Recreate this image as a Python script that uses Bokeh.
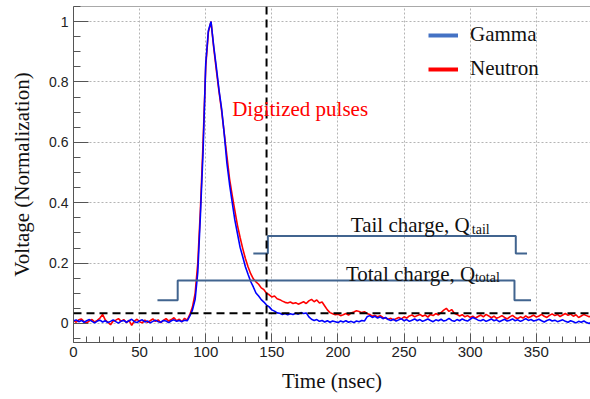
from bokeh.plotting import figure
from bokeh.models import (Range1d, SingleIntervalTicker, NumeralTickFormatter, Span,
                          Label, Legend, LegendItem)
from bokeh.embed import file_html
from bokeh.resources import INLINE

# ---------------- data ----------------
time_ns = list(range(0, 394, 2))   # sampling grid, 2 ns

gamma = [
    0.008, 0.012, 0.006, 0.010, 0.004, 0.009, 0.013, 0.007, 0.002, 0.008,   # 0-18
    0.011, 0.005, 0.009, 0.003, 0.007, 0.012, 0.006, 0.001, 0.008, 0.010,   # 20-38
    0.004, 0.009, 0.014, 0.006, 0.003, 0.009, 0.012, 0.005, 0.008, 0.002,   # 40-58
    0.007, 0.011, 0.006, 0.004, 0.010, 0.008, 0.003, 0.009, 0.012, 0.007,   # 60-78
    0.010, 0.006, 0.011, 0.009, 0.025, 0.045, 0.080, 0.170, 0.360, 0.570,   # 80-98
    0.860, 0.970, 1.000, 0.920, 0.850, 0.775, 0.712, 0.628, 0.532, 0.462,   # 100-118
    0.402, 0.343, 0.298, 0.252, 0.221, 0.188, 0.163, 0.139, 0.121, 0.101,   # 120-138
    0.091, 0.079, 0.071, 0.061, 0.055, 0.045, 0.041, 0.035, 0.034, 0.030,   # 140-158
    0.033, 0.029, 0.032, 0.030, 0.034, 0.031, 0.036, 0.033, 0.035, 0.022,   # 160-178
    0.014, 0.010, 0.013, 0.007, 0.010, 0.005, 0.009, 0.004, 0.008, 0.006,   # 180-198
    0.003, 0.008, 0.005, 0.009, 0.004, 0.007, 0.003, 0.008, 0.006, 0.010,   # 200-218
    0.008, 0.022, 0.026, 0.020, 0.024, 0.018, 0.022, 0.016, 0.020, 0.013,   # 220-238
    0.010, 0.014, 0.008, 0.012, 0.016, 0.009, 0.013, 0.007, 0.011, 0.015,   # 240-258
    0.009, 0.013, 0.007, 0.011, 0.015, 0.010, 0.006, 0.012, 0.009, 0.014,   # 260-278
    0.008, 0.011, 0.017, 0.010, 0.007, 0.013, 0.009, 0.015, 0.011, 0.008,   # 280-298
    0.014, 0.020, 0.016, 0.011, 0.009, 0.013, 0.007, 0.011, 0.015, 0.009,   # 300-318
    0.012, 0.006, 0.010, 0.014, 0.008, 0.011, 0.015, 0.009, 0.012, 0.007,   # 320-338
    0.011, 0.016, 0.010, 0.013, 0.008, 0.011, 0.014, 0.009, 0.005, 0.010,   # 340-358
    0.013, 0.008, 0.011, 0.006, 0.009, 0.012, 0.007, 0.004, 0.009, 0.006,   # 360-378
    0.002, 0.007, 0.004, 0.008, 0.003, 0.000, 0.005,                        # 380-392
]

neutron = [
    0.010, 0.004, 0.012, 0.015, 0.006, 0.002, 0.009, 0.013, 0.005, 0.010,   # 0-18
    0.018, 0.030, 0.012, 0.004, -0.004, 0.008, 0.011, 0.016, 0.007, 0.013,  # 20-38
    0.003, 0.010, -0.006, 0.008, 0.014, 0.006, 0.002, 0.011, 0.004, 0.009,  # 40-58
    0.015, 0.007, 0.012, 0.003, 0.010, 0.016, 0.008, 0.013, 0.019, 0.009,   # 60-78
    0.014, 0.006, 0.017, 0.011, 0.030, 0.055, 0.100, 0.200, 0.380, 0.600,   # 80-98
    0.850, 0.965, 1.000, 0.915, 0.840, 0.770, 0.705, 0.630, 0.555, 0.480,   # 100-118
    0.425, 0.375, 0.325, 0.285, 0.248, 0.215, 0.188, 0.165, 0.148, 0.138,   # 120-138
    0.130, 0.118, 0.112, 0.100, 0.095, 0.088, 0.091, 0.082, 0.079, 0.074,   # 140-158
    0.070, 0.068, 0.071, 0.066, 0.069, 0.064, 0.068, 0.072, 0.066, 0.075,   # 160-178
    0.080, 0.072, 0.078, 0.068, 0.071, 0.058, 0.045, 0.036, 0.032, 0.029,   # 180-198
    0.031, 0.026, 0.029, 0.033, 0.028, 0.035, 0.038, 0.042, 0.040, 0.036,   # 200-218
    0.039, 0.033, 0.030, 0.024, 0.027, 0.022, 0.026, 0.020, 0.018, 0.014,   # 220-238
    0.017, 0.012, 0.016, 0.020, 0.015, 0.022, 0.018, 0.025, 0.028, 0.022,   # 240-258
    0.026, 0.030, 0.024, 0.028, 0.021, 0.030, 0.026, 0.033, 0.028, 0.036,   # 260-278
    0.044, 0.050, 0.040, 0.046, 0.034, 0.030, 0.025, 0.029, 0.022, 0.026,   # 280-298
    0.020, 0.024, 0.018, 0.023, 0.028, 0.022, 0.030, 0.025, 0.019, 0.024,   # 300-318
    0.017, 0.021, 0.026, 0.020, 0.015, 0.022, 0.027, 0.020, 0.016, 0.022,   # 320-338
    0.018, 0.025, 0.019, 0.023, 0.028, 0.021, 0.025, 0.030, 0.024, 0.020,   # 340-358
    0.027, 0.032, 0.026, 0.030, 0.023, 0.028, 0.033, 0.027, 0.031, 0.024,   # 360-378
    0.029, 0.020, 0.025, 0.030, 0.026, 0.022, 0.027,                        # 380-392
]

# integration gates (step outlines)
tail_gate_t = [136, 147, 147, 334.5, 334.5, 343]
tail_gate_v = [0.232, 0.232, 0.290, 0.290, 0.232, 0.232]
total_gate_t = [63.5, 78.8, 78.8, 333.5, 333.5, 346]
total_gate_v = [0.077, 0.077, 0.142, 0.142, 0.077, 0.077]

threshold_level = 0.034   # horizontal dashed line
tail_start_time = 146     # vertical dashed line

X_START, X_END = 0, 391
Y_START, Y_END = -0.063, 1.05

SERIF = "Liberation Serif"
SANS = "Liberation Sans"
GATE_COLOR = "#41648f"

# ---------------- figure ----------------
p = figure(width=590, height=399, output_backend="svg", toolbar_location=None,
           x_range=Range1d(X_START, X_END), y_range=Range1d(Y_START, Y_END),
           min_border_left=73, min_border_right=0, min_border_top=6,
           min_border_bottom=57)
p.outline_line_color = None
p.background_fill_color = "white"
p.border_fill_color = "white"

# grid
for g in (p.xgrid, p.ygrid):
    g.grid_line_color = "#b4b4b4"
    g.grid_line_dash = "2 2"
    g.grid_line_width = 1

# axes
p.xaxis.ticker = SingleIntervalTicker(interval=50, num_minor_ticks=5)
p.yaxis.ticker = SingleIntervalTicker(interval=0.2, num_minor_ticks=4)
p.xgrid.ticker = p.xaxis.ticker
p.ygrid.ticker = p.yaxis.ticker
p.yaxis.formatter = NumeralTickFormatter(format="0.[0]")

for ax in (p.xaxis, p.yaxis):
    ax.axis_line_color = "#555555"
    ax.major_tick_line_color = "#555555"
    ax.minor_tick_line_color = "#555555"
    ax.major_tick_out = 0
    ax.minor_tick_out = 0
    ax.major_label_text_font = SANS
    ax.major_label_text_color = "#222222"
    ax.axis_label_text_font = SERIF
    ax.axis_label_text_font_style = "normal"
    ax.axis_label_text_font_size = "21px"
    ax.axis_label_text_color = "#111111"

p.xaxis.major_tick_in = 9
p.xaxis.minor_tick_in = 6
p.yaxis.major_tick_in = 15
p.yaxis.minor_tick_in = 7
p.xaxis.major_label_text_font_size = "15px"
p.yaxis.major_label_text_font_size = "14px"
p.xaxis.major_label_standoff = 4
p.yaxis.major_label_standoff = 5
p.xaxis.axis_label = "Time (nsec)"
p.yaxis.axis_label = "Voltage (Normalization)"
p.xaxis.axis_label_standoff = 9
p.yaxis.axis_label_standoff = 12

# top border
p.add_layout(Span(location=Y_END, dimension="width", line_color="#555555", line_width=1))

# traces
p.line(time_ns, neutron, line_color="#ff0000", line_width=1.6)
p.line(time_ns, gamma, line_color="#0000ff", line_width=1.6)

# gates
p.line(total_gate_t, total_gate_v, line_color=GATE_COLOR, line_width=2)
p.line(tail_gate_t, tail_gate_v, line_color=GATE_COLOR, line_width=2)

# dashed markers
p.add_layout(Span(location=threshold_level, dimension="width", line_color="black",
                  line_width=2, line_dash="8 5"))
p.add_layout(Span(location=tail_start_time, dimension="height", line_color="black",
                  line_width=2, line_dash="8 5"))

# legend (dummy renderers with a single NaN point carry legend styling)
nan = float("nan")
lg = p.line([nan], [nan], line_color="#4472c4", line_width=4)
ln = p.line([nan], [nan], line_color="#ff0000", line_width=4)
legend = Legend(items=[LegendItem(label="Gamma", renderers=[lg]),
                       LegendItem(label="Neutron", renderers=[ln])],
                location=(355, 261), orientation="vertical",
                glyph_width=30, glyph_height=20, label_standoff=12, spacing=9,
                padding=0, margin=0, border_line_color=None,
                background_fill_alpha=0,
                label_text_font=SERIF, label_text_font_size="21px",
                label_text_color="#111111")
p.add_layout(legend)

# text annotations
p.add_layout(Label(x=120, y=0.712, text="Digitized pulses", text_color="#ff0000",
                   text_font=SERIF, text_font_size="21px", text_baseline="alphabetic"))

p.add_layout(Label(x=209.7, y=0.325, text="Tail charge, Q", text_color="#111111",
                   text_font=SERIF, text_font_size="21px", text_baseline="alphabetic"))
p.add_layout(Label(x=209.7, y=0.325, x_offset=121, y_offset=-4, text="tail",
                   text_color="#111111", text_font=SERIF, text_font_size="14px",
                   text_baseline="alphabetic"))

p.add_layout(Label(x=206, y=0.165, text="Total charge, Q", text_color="#111111",
                   text_font=SERIF, text_font_size="21px", text_baseline="alphabetic"))
p.add_layout(Label(x=206, y=0.165, x_offset=129, y_offset=-4, text="total",
                   text_color="#111111", text_font=SERIF, text_font_size="14px",
                   text_baseline="alphabetic"))

open("out.html", "w").write(file_html(p, INLINE))
